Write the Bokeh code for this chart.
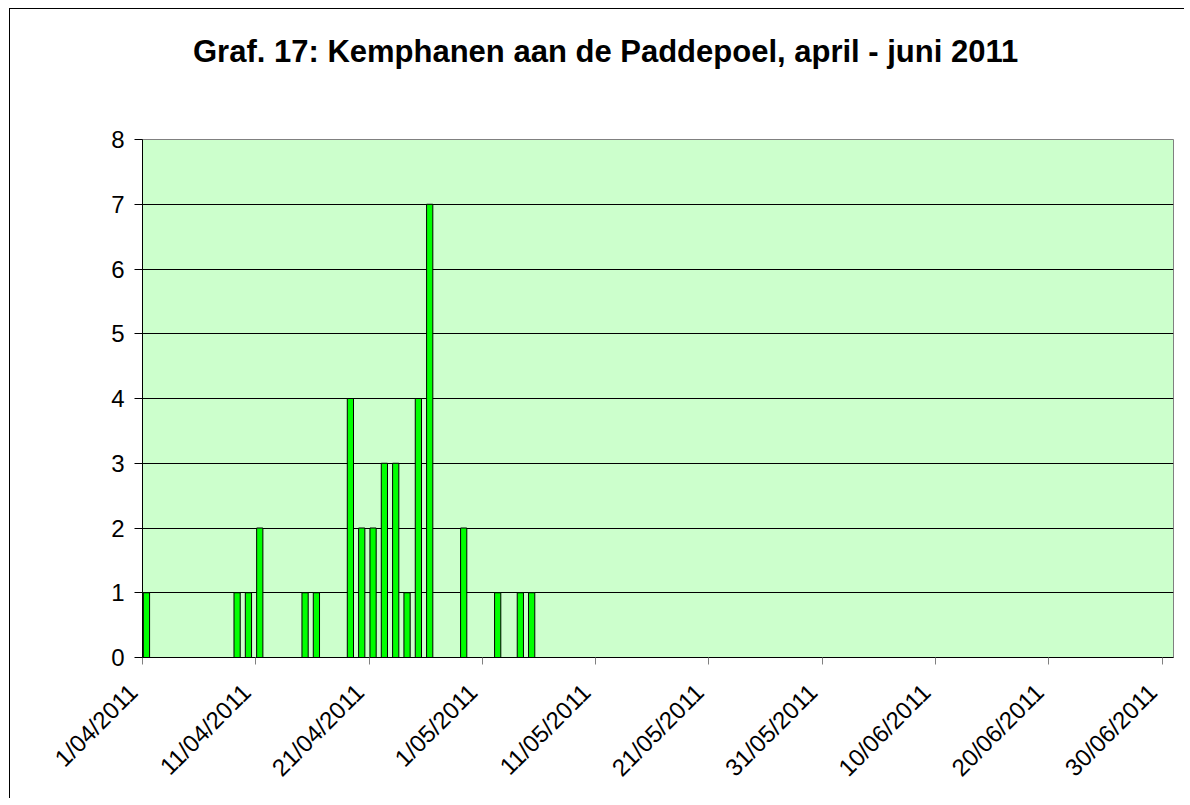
from datetime import datetime
from math import pi

from bokeh.plotting import figure
from bokeh.layouts import column
from bokeh.models import (ColumnDataSource, Range1d, FixedTicker, Div)
from bokeh.transform import dodge
from bokeh.embed import file_html
from bokeh.resources import INLINE

# ---- data ----
dates = ["1/04/2011", "9/04/2011", "10/04/2011", "11/04/2011", "15/04/2011", "16/04/2011",
         "19/04/2011", "20/04/2011", "21/04/2011", "22/04/2011", "23/04/2011", "24/04/2011",
         "25/04/2011", "26/04/2011", "29/04/2011", "2/05/2011", "4/05/2011", "5/05/2011"]
counts = [1, 1, 1, 2, 1, 1, 4, 2, 2, 3, 3, 1, 4, 7, 2, 1, 1, 1]
tick_dates = ["1/04/2011", "11/04/2011", "21/04/2011", "1/05/2011", "11/05/2011",
              "21/05/2011", "31/05/2011", "10/06/2011", "20/06/2011", "30/06/2011"]
x_start, x_end = "1/04/2011", "1/07/2011"
y_ticks = [0, 1, 2, 3, 4, 5, 6, 7, 8]
title_text = "Graf. 17: Kemphanen aan de Paddepoel, april - juni 2011"

def d(s):
    return datetime.strptime(s, "%d/%m/%Y")

def ms(dt):
    return (dt - datetime(1970, 1, 1)).total_seconds() * 1000

DAY = 86400000
src = ColumnDataSource(dict(date=[d(s) for s in dates], count=counts))

FONT = "Liberation Sans"

title = Div(text=title_text, width=1174, height=70, margin=0,
            styles={"font-family": FONT, "font-size": "31px", "font-weight": "bold",
                    "color": "black", "white-space": "nowrap",
                    "padding-top": "25px", "padding-left": "183px",
                    "box-sizing": "border-box", "line-height": "normal"})

p = figure(width=1174, height=719, output_backend="svg", toolbar_location=None,
           x_axis_type="datetime",
           x_range=Range1d(d(x_start), d(x_end)), y_range=Range1d(0, 8),
           min_border_left=132, min_border_right=11, min_border_top=60, min_border_bottom=141,
           background_fill_color="#CCFFCC", border_fill_color="white",
           outline_line_color="#808080")
p.margin = 0

p.vbar(x=dodge("date", 0.35 * DAY, range=p.x_range), top="count", width=0.55 * DAY,
       bottom=0, source=src, fill_color="#00FF00", line_color="black", line_width=1)

# x axis
tick_ms = [ms(d(s)) for s in tick_dates]
pad = "\u00a0\u00a0"  # label anchoring like the reference (text ends left of the tick)
xa = p.xaxis[0]
xa.ticker = FixedTicker(ticks=tick_ms)
xa.major_label_overrides = {t: s + pad for t, s in zip(tick_ms, tick_dates)}
xa.major_label_orientation = pi / 4
xa.major_label_text_font = FONT
xa.major_label_text_font_size = "24px"
xa.major_label_text_color = "black"
xa.major_label_standoff = 14
xa.major_tick_in = 0
xa.major_tick_out = 7
xa.major_tick_line_color = "#808080"
xa.minor_tick_line_color = None
xa.axis_line_color = "black"

# y axis
p.yaxis.ticker = FixedTicker(ticks=y_ticks)
p.yaxis.major_label_text_font = FONT
p.yaxis.major_label_text_font_size = "24px"
p.yaxis.major_label_text_color = "black"
p.yaxis.major_tick_in = 0
p.yaxis.major_tick_out = 8
p.yaxis.major_tick_line_color = "black"
p.yaxis.minor_tick_line_color = None
p.yaxis.axis_line_color = "black"
p.yaxis.major_label_standoff = 10

p.xgrid.grid_line_color = None
p.ygrid.ticker = FixedTicker(ticks=y_ticks[1:-1])
p.ygrid.grid_line_color = "black"
p.ygrid.grid_line_width = 1

root = column(title, p, spacing=0)
root.margin = (8, 0, 0, 9)
root.styles = {"border-left": "1px solid black", "border-top": "1px solid black",
               "border-right": "none", "border-bottom": "none"}

open("out.html", "w").write(file_html(root, INLINE))
